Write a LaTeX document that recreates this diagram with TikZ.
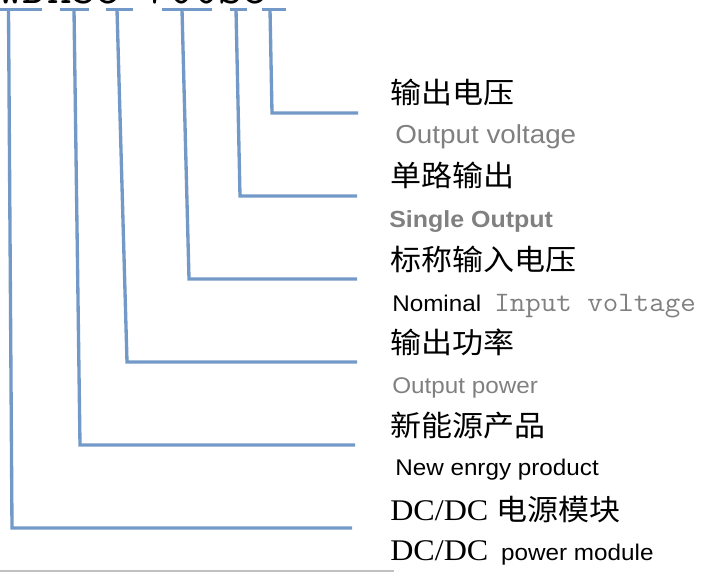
\documentclass[tikz,border=0pt]{standalone}
\usepackage{fontspec}
\setmainfont{Liberation Serif}
\setsansfont{Liberation Sans}
\newfontfamily\cjk{Noto Sans CJK SC}
\usepackage{tikz}
\definecolor{leadblue}{RGB}{114,153,199}
\definecolor{textgray}{RGB}{128,128,128}
\definecolor{rulegray}{RGB}{192,192,192}
\newcommand{\cnfnt}{\cjk\fontsize{21.75pt}{24pt}\selectfont}
\newcommand{\enfnt}{\sffamily\fontsize{17pt}{19pt}\selectfont}
\newcommand{\dcfnt}{\rmfamily\fontsize{22.5pt}{25pt}\selectfont}
\tikzset{
  lbl/.style={anchor=base west, inner sep=0pt, xscale=1.07},
  lead/.style={leadblue, line width=2.5pt}
}

\begin{document}
\begin{tikzpicture}[x=0.75pt, y=-0.75pt]
\useasboundingbox (0,0) rectangle (706,572);

% model number, cut at the top edge
\node[anchor=base west, inner sep=0pt] (model) at (-2,3.5)
  {\ttfamily\fontsize{35.7pt}{38pt}\selectfont WDH35-700S5};

% brackets and leads
\foreach \l/\a/\b/\t/\s/\y/\e in {1/0/42/8.5/12/528/352, 2/60/89/74/80/445/355,
  3/106/133/117/127/362/357, 4/162/212/182/189/279/357,
  5/230/247/236/240/196/357, 6/262/286/270/272/113/358}
{
  \coordinate (top\l) at (\t,9.5);
  \coordinate (bend\l) at (\s,\y);
  \coordinate (end\l) at (\e,\y);
  \draw[lead] (\a,9.5) -- (\b,9.5);
  \draw[lead] (top\l) -- (bend\l) -- (end\l);
}

% labels
\node[lbl] (outv) at (390,103) {\cnfnt 输出电压};
\node[lbl, textgray] (outven) at (395,143) {\sffamily\fontsize{19.5pt}{21pt}\selectfont Output voltage};
\node[lbl] (single) at (390,186) {\cnfnt 单路输出};
\node[lbl, textgray] (singleen) at (389,227) {\sffamily\bfseries\fontsize{17.5pt}{19pt}\selectfont Single Output};
\node[lbl] (inv) at (390,270) {\cnfnt 标称输入电压};
\node[lbl] (nominal) at (392,311) {\enfnt Nominal};
\node[lbl, textgray] (inven) at (494,311) {\ttfamily\fontsize{21.1pt}{24pt}\selectfont Input voltage};
\node[lbl] (pow) at (390,353) {\cnfnt 输出功率};
\node[lbl, textgray] (powen) at (392,393) {\enfnt Output power};
\node[lbl] (newe) at (390,436) {\cnfnt 新能源产品};
\node[lbl] (neween) at (395,475) {\enfnt New enrgy product};
\node[lbl] (module) at (390,520) {\dcfnt DC/DC {\cnfnt 电源模块}};
\node[lbl] (moduleen) at (390,560) {\dcfnt DC/DC\hspace{9pt}{\enfnt power module}};

\draw[rulegray, line width=1.5pt] (0,570.5) -- (394,570.5);
\end{tikzpicture}
\end{document}
